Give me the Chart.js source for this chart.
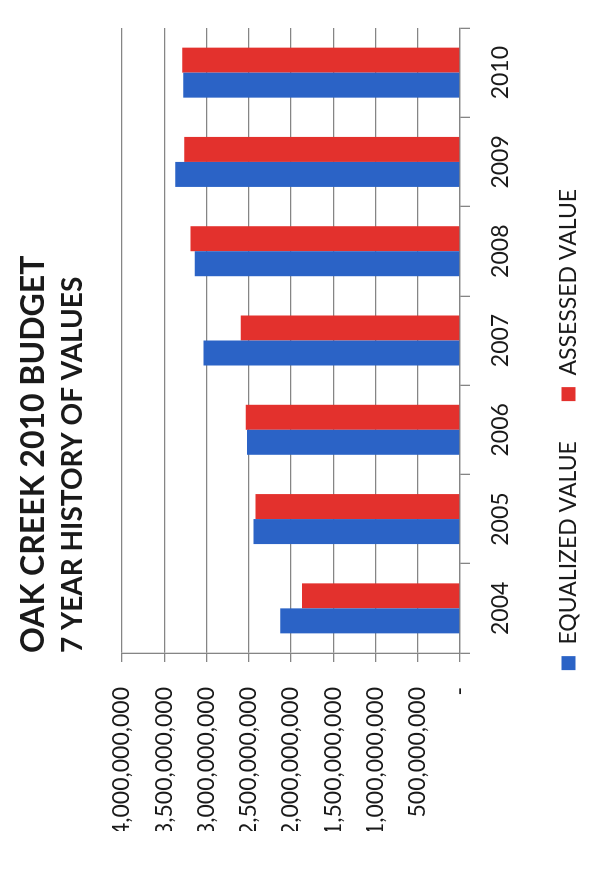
<!DOCTYPE html>
<html>
<head>
<meta charset="utf-8">
<title>Oak Creek 2010 Budget</title>
<script src="https://cdn.jsdelivr.net/npm/chart.js@4.4.1/dist/chart.umd.min.js"></script>
<style>
    html, body { margin: 0; padding: 0; background: #ffffff; }
    body { width: 608px; height: 878px; overflow: hidden; position: relative; }
    /* the chart is printed sideways on the page: draw it upright, then turn it */
    #frame {
        position: absolute; left: 0; top: 0;
        width: 878px; height: 608px;
        transform-origin: 0 0;
        transform: translateY(878px) rotate(-90deg);
    }
</style>
</head>
<body>
<div id="frame"><canvas id="budget-chart" width="878" height="608"></canvas></div>
<script>
// Dados
const chartTitle = 'OAK CREEK 2010 BUDGET';
const chartSubtitle = '7 YEAR HISTORY OF VALUES';
const years = ['2004', '2005', '2006', '2007', '2008', '2009', '2010'];
const equalizedValues = [2126000000, 2445000000, 2520000000, 3036000000, 3140000000, 3369000000, 3276000000];
const assessedValues = [1870000000, 2420000000, 2536000000, 2595000000, 3188000000, 3264000000, 3287000000];
const valueTicks = [0, 500000000, 1000000000, 1500000000, 2000000000, 2500000000, 3000000000, 3500000000, 4000000000];

const textColor = '#1a1a1a';
const gridColor = '#858585';
const fontFamily = 'Lato, "Open Sans", sans-serif';

function formatValue(value) {
    // formato contábil: zero aparece como traço
    return value === 0 ? '-' : value.toLocaleString('en-US');
}

const ctx = document.getElementById('budget-chart').getContext('2d');

new Chart(ctx, {
    type: 'bar',
    data: {
        labels: years,
        datasets: [
            {
                label: 'EQUALIZED VALUE',
                data: equalizedValues,
                backgroundColor: '#2b63c6',
                borderWidth: 0
            },
            {
                label: 'ASSESSED VALUE',
                data: assessedValues,
                backgroundColor: '#e3312d',
                borderWidth: 0
            }
        ]
    },
    options: {
        responsive: false,
        animation: false,
        categoryPercentage: 0.56,
        barPercentage: 1.0,
        layout: {
            padding: { top: 4, left: 47, right: 28, bottom: 18 }
        },
        plugins: {
            title: {
                display: true,
                text: chartTitle,
                align: 'start',
                fullSize: false,
                color: textColor,
                font: { family: fontFamily, size: 32, weight: 'bold' },
                padding: { top: 10, bottom: 4 }
            },
            subtitle: {
                display: true,
                text: chartSubtitle,
                align: 'start',
                fullSize: false,
                color: textColor,
                font: { family: fontFamily, size: 28, weight: 'bold' },
                padding: { top: 0, bottom: 32 }
            },
            legend: {
                position: 'bottom',
                labels: {
                    boxWidth: 14,
                    boxHeight: 14,
                    padding: 40,
                    color: textColor,
                    font: { family: fontFamily, size: 23 }
                }
            },
            tooltip: { enabled: false }
        },
        scales: {
            x: {
                afterFit: function (scale) {
                    scale.height = 57;
                },
                grid: {
                    drawOnChartArea: false,
                    drawTicks: true,
                    tickLength: 10,
                    lineWidth: 1.3,
                    color: gridColor
                },
                border: { display: true, color: gridColor, width: 1.3 },
                ticks: {
                    color: textColor,
                    padding: 17,
                    font: { family: fontFamily, size: 23 }
                }
            },
            y: {
                min: 0,
                max: 4000000000,
                afterBuildTicks: function (scale) {
                    scale.ticks = valueTicks.map(v => ({ value: v }));
                },
                afterFit: function (scale) {
                    scale.width = 178;
                },
                grid: {
                    color: gridColor,
                    lineWidth: 1.3,
                    tickLength: 9
                },
                border: { display: true, color: gridColor, width: 1.3 },
                ticks: {
                    color: textColor,
                    padding: 25,
                    font: { family: fontFamily, size: 23 },
                    callback: function (value) {
                        return formatValue(value);
                    }
                }
            }
        }
    }
});
</script>
</body>
</html>
